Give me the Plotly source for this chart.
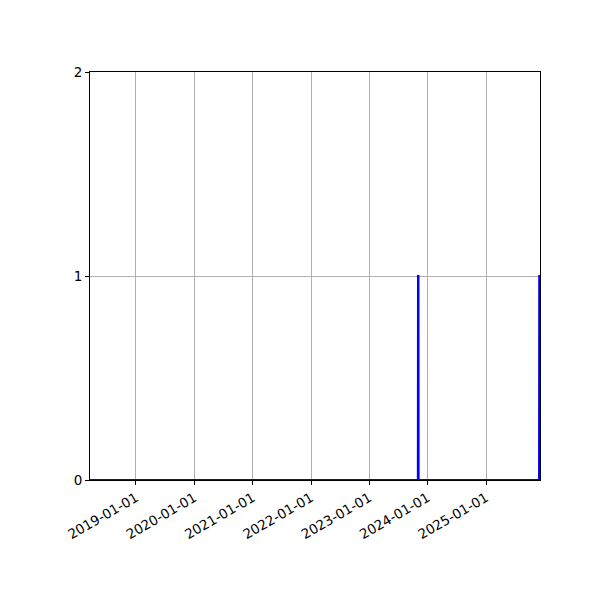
import plotly.graph_objects as go

# Event series: mostly zero, two single-event spikes
dates = ["2018-03-19", "2023-11-01", "2023-11-02", "2023-11-05", "2023-11-06",
         "2025-11-29", "2025-11-30", "2025-12-05"]
counts = [0, 0, 1, 1, 0, 0, 1, 1]

x_range = ["2018-03-19", "2025-12-05"]
y_ticks = [0, 1, 2]
x_ticks = ["2019-01-01", "2020-01-01", "2021-01-01", "2022-01-01",
           "2023-01-01", "2024-01-01", "2025-01-01"]

fig = go.Figure()
fig.add_trace(go.Scatter(
    x=dates, y=counts, mode='lines',
    line=dict(color='blue', width=2, shape='linear'),
    showlegend=False
))

# the page body adds 8px, so margins are shifted to compensate
fig.update_layout(
    width=600, height=600,
    margin=dict(l=82, r=68, t=64, b=128),
    plot_bgcolor='white', paper_bgcolor='white',
    font=dict(family='DejaVu Sans', size=13.5, color='black'),
)
fig.update_xaxes(
    range=x_range, tickvals=x_ticks, ticktext=x_ticks, tickangle=-30,
    showgrid=True, gridcolor='#b0b0b0', gridwidth=1,
    showline=True, linecolor='black', linewidth=1, mirror=True,
    ticks='outside', ticklen=4, tickcolor='black', zeroline=False
)
fig.update_yaxes(
    range=[0, 2], tickvals=y_ticks,
    showgrid=True, gridcolor='#b0b0b0', gridwidth=1,
    showline=True, linecolor='black', linewidth=1, mirror=True,
    ticks='outside', ticklen=4, tickcolor='black', zeroline=False
)

fig.write_html("out.html")
